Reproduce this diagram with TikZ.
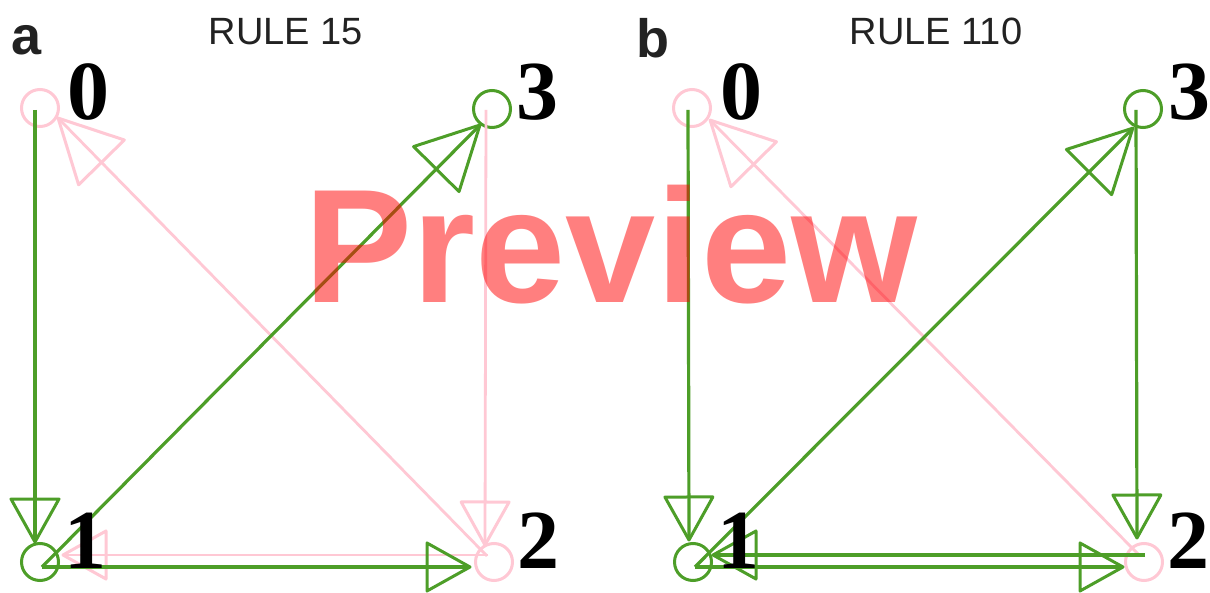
\documentclass[tikz,border=0pt]{standalone}
\usepackage{fontspec}
\setmainfont{Liberation Serif}
\newfontfamily\headfont{Liberation Sans}
\usetikzlibrary{decorations.markings}

\definecolor{edgegreen}{RGB}{77,158,40}
\definecolor{edgepink}{RGB}{255,200,212}
\definecolor{inkgray}{RGB}{34,34,34}

\tikzset{
  vtx/.style={circle, draw=#1, line width=3pt, minimum size=37pt, inner sep=0pt, outer sep=0pt},
  num/.style={anchor=base, inner sep=0pt, font=\fontsize{84}{84}\selectfont\bfseries, text=black},
  gline/.style={draw=edgegreen, line width=3.2pt},
  pline/.style={draw=edgepink, line width=2.8pt},
  % open triangular heads, the edge line runs through to the tip
  headax/.style={postaction={decorate}, decoration={markings,
      mark=at position 1 with {\draw[draw=#1, line width=3pt, line join=round]
        (0,0) -- (-43,24) -- (-43,-24) -- cycle;}}},
  headdg/.style={postaction={decorate}, decoration={markings,
      mark=at position 1 with {\draw[draw=#1, line width=3pt, line join=round]
        (0,0) -- (-62,32) -- (-62,-32) -- cycle;}}},
  title/.style={anchor=base, inner sep=0pt, font=\headfont\fontsize{38}{38}\selectfont, text=inkgray},
  panel/.style={anchor=base, inner sep=0pt, font=\headfont\bfseries\fontsize{54}{54}\selectfont, text=inkgray},
}

\begin{document}
\begin{tikzpicture}[x=1pt, y=-1pt]
\useasboundingbox[fill=white] (0,0) rectangle (1210,593);

% ---------- panel a : rule 15 ----------
\node[vtx=edgepink]  (a0) at (40,108) {};
\node[vtx=edgegreen] (a3) at (492,109) {};
\node[vtx=edgegreen] (a1) at (40,562) {};
\node[vtx=edgepink]  (a2) at (494,562) {};

\draw[pline, headdg=edgepink] ([shift={(-7,-6)}]a2.center) -- ([shift={(18,10)}]a0.center);
\draw[pline, headax=edgepink] ([shift={(-6,1)}]a3.center) -- ([shift={(-9,-17)}]a2.center);
\draw[pline, headax=edgepink] ([shift={(-6,-7)}]a2.center) -- ([shift={(23,-7)}]a1.center);

\draw[gline, headax=edgegreen] ([shift={(-5,2)}]a0.center) -- ([shift={(-5,-20)}]a1.center);
\draw[gline, headdg=edgegreen] ([shift={(2,5)}]a1.center) -- ([shift={(-12,16)}]a3.center);
\draw[gline, headax=edgegreen] ([shift={(2,5)}]a1.center) -- ([shift={(-24,5)}]a2.center);

\node[num] (a0l) at (88,120) {0};
\node[num] (a3l) at (537,120) {3};
\node[num] (a1l) at (85,568) {1};
\node[num] (a2l) at (538,568) {2};

\node[panel] (pa) at (27,55) {a};
\node[title] (ta) at (286,45) {RULE 15};

% ---------- panel b : rule 110 ----------
\node[vtx=edgepink]  (b0) at (692,108) {};
\node[vtx=edgegreen] (b3) at (1143,109) {};
\node[vtx=edgegreen] (b1) at (693,562) {};
\node[vtx=edgepink]  (b2) at (1144,562) {};

\draw[pline, headdg=edgepink] ([shift={(-4,-6)}]b2.center) -- ([shift={(18,12)}]b0.center);

\draw[gline, headax=edgegreen] ([shift={(-4,2)}]b0.center) -- ([shift={(-4,-22)}]b1.center);
\draw[gline, headdg=edgegreen] ([shift={(2,5)}]b1.center) -- ([shift={(-10,19)}]b3.center);
\draw[gline, headax=edgegreen] ([shift={(2,5)}]b1.center) -- ([shift={(-21,5)}]b2.center);
\draw[gline, headax=edgegreen] ([shift={(1,-7)}]b2.center) -- ([shift={(20,-7)}]b1.center);
\draw[gline, headax=edgegreen] ([shift={(-7,1)}]b3.center) -- ([shift={(-7,-24)}]b2.center);

\node[num] (b0l) at (741,120) {0};
\node[num] (b3l) at (1189,120) {3};
\node[num] (b1l) at (738,568) {1};
\node[num] (b2l) at (1188,568) {2};

\node[panel] (pb) at (653,58) {b};
\node[title] (tb) at (936,45) {RULE 110};

% ---------- overlay lettering ----------
\node[anchor=base, inner sep=0pt, font=\headfont\bfseries\fontsize{162}{162}\selectfont,
      text=red, text opacity=0.5] (wm) at (611,303) {Preview};
\end{tikzpicture}
\end{document}
